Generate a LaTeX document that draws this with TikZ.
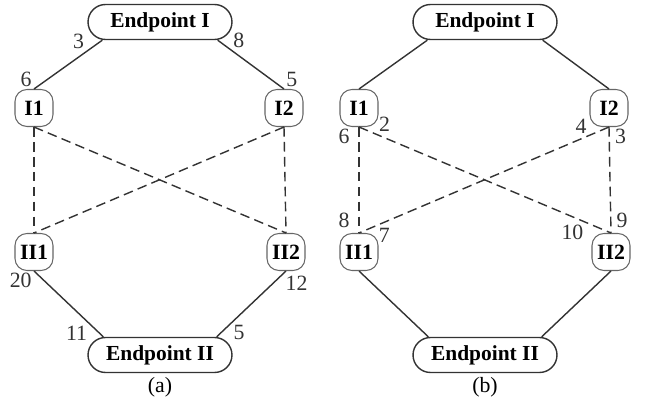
\documentclass[tikz,border=0pt]{standalone}
\usepackage{fontspec}
\setmainfont{Liberation Serif}

\begin{document}
\begin{tikzpicture}[
        x=0.02cm, y=-0.02cm,
        end_style/.style={draw=black!80, line width=0.8pt, rounded corners=0.35cm, minimum width=2.88cm, minimum height=0.7cm, inner sep=0pt, font=\fontsize{12.2}{14}\selectfont\bfseries},
        box_style/.style={draw=black!60, line width=0.6pt, rounded corners=0.24cm, minimum width=0.76cm, minimum height=0.74cm, inner sep=0pt, font=\fontsize{12.4}{14}\selectfont\bfseries},
        link_style/.style={black!80, line width=0.8pt},
        dash_style/.style={black!80, line width=0.8pt, dash pattern=on 5.5pt off 3pt},
        num_style/.style={inner sep=1pt, font=\fontsize{12.4}{14}\selectfont}
    ]
        \useasboundingbox (0,0) rectangle (645,404);

        % Panel (a)
        \node[end_style] (a_top) at (160,22) {Endpoint I};
        \node[box_style] (a_I1) at (34,108) {I1};
        \node[box_style] (a_I2) at (284,108) {I2};
        \node[box_style] (a_II1) at (34,252) {II1};
        \node[box_style] (a_II2) at (286,252) {II2};
        \node[end_style] (a_bot) at (160,355) {Endpoint II};
        \node[num_style] (a_cap) at (160,387) {(a)};

        \draw[link_style] ([xshift=0.3cm]a_top.south west) -- (a_I1.north)
            node[num_style, pos=0.23, above left] {3}
            node[num_style, pos=1, above left] {6};
        \draw[link_style] ([xshift=-0.3cm]a_top.south east) -- (a_I2.north)
            node[num_style, pos=0.2, above right] {8}
            node[num_style, pos=1, above right] {5};
        \draw[link_style] (a_II1.south) -- ([xshift=0.32cm]a_bot.north west)
            node[num_style, pos=0, below left] {20}
            node[num_style, pos=0.8, below left] {11};
        \draw[link_style] (a_II2.south) -- ([xshift=-0.32cm]a_bot.north east)
            node[num_style, pos=0.04, below right] {12}
            node[num_style, pos=0.79, below right] {5};

        \draw[dash_style] (a_I1.south) -- (a_II1.north);
        \draw[dash_style] (a_I1.south) -- (a_II2.north);
        \draw[dash_style] (a_I2.south) -- (a_II1.north);
        \draw[dash_style] (a_I2.south) -- (a_II2.north);

        % Panel (b)
        \node[end_style] (b_top) at (485,22) {Endpoint I};
        \node[box_style] (b_I1) at (359,108) {I1};
        \node[box_style] (b_I2) at (609,108) {I2};
        \node[box_style] (b_II1) at (359,252) {II1};
        \node[box_style] (b_II2) at (611,252) {II2};
        \node[end_style] (b_bot) at (485,355) {Endpoint II};
        \node[num_style] (b_cap) at (485,387) {(b)};

        \draw[link_style] ([xshift=0.3cm]b_top.south west) -- (b_I1.north);
        \draw[link_style] ([xshift=-0.3cm]b_top.south east) -- (b_I2.north);
        \draw[link_style] (b_II1.south) -- ([xshift=0.32cm]b_bot.north west);
        \draw[link_style] (b_II2.south) -- ([xshift=-0.32cm]b_bot.north east);

        \draw[dash_style] (b_I1.south) -- (b_II1.north)
            node[num_style, pos=0.09, left=4pt] {6}
            node[num_style, pos=0.88, left=4pt] {8};
        \draw[dash_style] (b_I1.south) -- (b_II2.north)
            node[num_style, pos=0.07, above right] {2}
            node[num_style, pos=0.9, below left] {10};
        \draw[dash_style] (b_I2.south) -- (b_II1.north)
            node[num_style, pos=0.08, above left] {4}
            node[num_style, pos=0.93, below right] {7};
        \draw[dash_style] (b_I2.south) -- (b_II2.north)
            node[num_style, pos=0.09, right=2pt] {3}
            node[num_style, pos=0.88, right=2pt] {9};
    \end{tikzpicture}
\end{document}
